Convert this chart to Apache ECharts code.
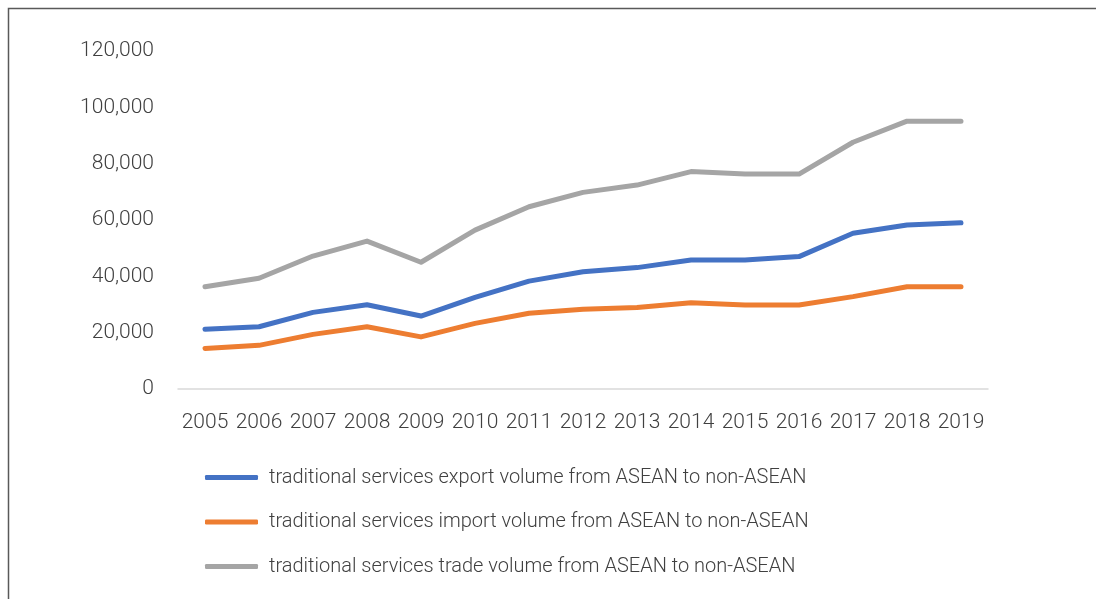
<!DOCTYPE html>
<html>
<head>
<meta charset="utf-8">
<script src="https://cdn.jsdelivr.net/npm/echarts@6/dist/echarts.min.js"></script>
<style>
  html, body { margin: 0; padding: 0; background: #fff; }
  #chart { width: 1096px; height: 599px; }
</style>
</head>
<body>
<div id="chart"></div>
<script>
// Years on the category axis
const years = ['2005','2006','2007','2008','2009','2010','2011','2012','2013','2014','2015','2016','2017','2018','2019'];

// Traditional services flows, ASEAN to non-ASEAN
const exportVolume = [21200, 22100, 27200, 29900, 25900, 32500, 38300, 41600, 43100, 45800, 45800, 47000, 55300, 58200, 59000];
const importVolume = [14400, 15500, 19400, 22100, 18500, 23300, 26900, 28300, 28900, 30600, 29800, 29800, 32800, 36300, 36300];
const tradeVolume  = [36300, 39300, 47200, 52500, 45000, 56400, 64700, 69800, 72400, 77200, 76300, 76300, 87600, 95100, 95100];

const seriesNames = [
  'traditional services export volume from ASEAN to non-ASEAN',
  'traditional services import volume from ASEAN to non-ASEAN',
  'traditional services trade volume from ASEAN to non-ASEAN'
];
const seriesColors = ['#4472C4', '#ED7D31', '#A5A5A5'];
const seriesData = [exportVolume, importVolume, tradeVolume];

const FONT = 'Roboto, "DejaVu Sans", sans-serif';

const chart = echarts.init(document.getElementById('chart'), null, { renderer: 'canvas' });
chart.setOption({
  backgroundColor: '#ffffff',
  animation: false,
  graphic: [{
    type: 'rect',
    shape: { x: 8.5, y: 8.5, width: 1200, height: 700 },
    style: { fill: 'none', stroke: '#595959', lineWidth: 1.5 },
    silent: true
  }],
  grid: { left: 178, right: 108, top: 51, bottom: 210, containLabel: false },
  legend: {
    orient: 'vertical',
    left: 205,
    top: 466,
    padding: 0,
    itemWidth: 53,
    itemHeight: 5,
    itemGap: 21.5,
    icon: 'roundRect',
    textStyle: { fontFamily: FONT, fontSize: 20, color: '#404040', fontWeight: 300, lineHeight: 23, padding: [0, 0, 0, 6] },
    data: seriesNames
  },
  xAxis: {
    type: 'category',
    data: years,
    boundaryGap: true,
    axisLine: { lineStyle: { color: '#d9d9d9', width: 1.5 } },
    axisTick: { show: false },
    axisLabel: { interval: 0, fontFamily: FONT, fontSize: 21, color: '#404040', margin: 23, fontWeight: 300 }
  },
  yAxis: {
    type: 'value',
    min: 0,
    max: 120000,
    interval: 20000,
    axisLine: { show: false },
    axisTick: { show: false },
    splitLine: { show: false },
    axisLabel: {
      fontFamily: FONT, fontSize: 21, color: '#404040', margin: 24, fontWeight: 300,
      formatter: v => v.toLocaleString('en-US')
    }
  },
  series: seriesNames.map((name, i) => ({
    name,
    type: 'line',
    data: seriesData[i],
    symbol: 'none',
    lineStyle: { color: seriesColors[i], width: 5, cap: 'round', join: 'round' },
    itemStyle: { color: seriesColors[i] }
  }))
});
</script>
</body>
</html>
